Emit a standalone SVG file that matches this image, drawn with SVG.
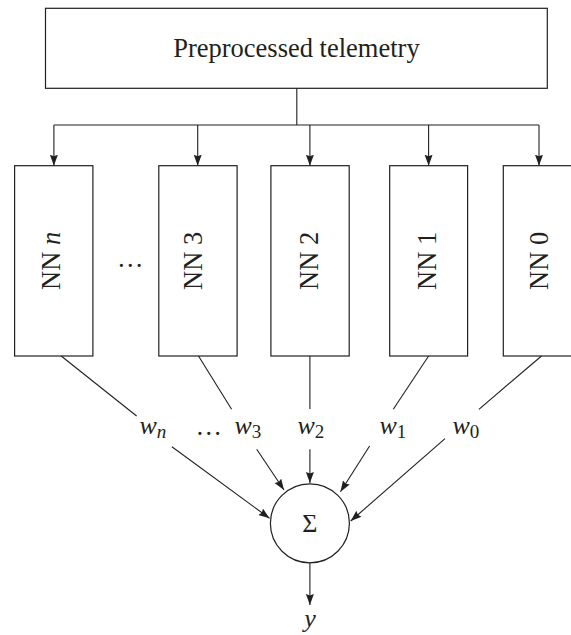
<svg xmlns="http://www.w3.org/2000/svg" width="571" height="635" viewBox="0 0 571 635">
<defs>
<marker id="ah" markerUnits="userSpaceOnUse" markerWidth="12" markerHeight="9" refX="11" refY="4" orient="auto">
<path d="M0,0 L11,4 L0,8 L1.5,4 z" fill="#231f20"/>
</marker>
<style>
.box{fill:#fff;stroke:#231f20;stroke-width:1.2}
.ln{fill:none;stroke:#231f20;stroke-width:1.1}
.ar{fill:none;stroke:#231f20;stroke-width:1.1;marker-end:url(#ah)}
.t{font-family:"Liberation Serif","Times New Roman",serif;font-size:26.5px;fill:#231f20}
.it{font-style:italic}
.w{font-family:"Liberation Serif","Times New Roman",serif;font-size:26px;font-style:italic;fill:#231f20}
.sub{font-size:19px}
</style>
</defs>
<rect width="571" height="635" fill="#fff"/>

<g id="telemetry">
<rect class="box" x="45.5" y="8.3" width="501.8" height="80"/>
<text class="t" x="296.4" y="56.5" text-anchor="middle">Preprocessed telemetry</text>
</g>

<g id="nn_n">
<rect class="box" x="14.6" y="165.7" width="78.3" height="190.3"/>
<text class="t" transform="translate(60.4,260.8) rotate(-90)" text-anchor="middle">NN <tspan class="it">n</tspan></text>
</g>
<g id="nn_3">
<rect class="box" x="158.8" y="165.7" width="78.3" height="190.3"/>
<text class="t" transform="translate(202.4,260.8) rotate(-90)" text-anchor="middle">NN 3</text>
</g>
<g id="nn_2">
<rect class="box" x="270.9" y="165.7" width="78.3" height="190.3"/>
<text class="t" transform="translate(318.2,260.8) rotate(-90)" text-anchor="middle">NN 2</text>
</g>
<g id="nn_1">
<rect class="box" x="389.7" y="165.7" width="77.9" height="190.3"/>
<text class="t" transform="translate(436.2,260.8) rotate(-90)" text-anchor="middle">NN 1</text>
</g>
<g id="nn_0">
<rect class="box" x="503.3" y="165.7" width="78.3" height="190.3"/>
<text class="t" transform="translate(548.4,260.8) rotate(-90)" text-anchor="middle">NN 0</text>
</g>

<g id="dots_nn">
<text class="t" x="130.3" y="267" text-anchor="middle">…</text>
</g>

<g id="sum">
<circle class="box" cx="309.9" cy="523.3" r="39.5"/>
<text class="t" x="309.9" y="532" text-anchor="middle" style="font-size:26px">Σ</text>
</g>

<g id="labels">
<text class="w" x="139.5" y="434">w<tspan class="sub" dy="4">n</tspan></text>
<text class="t" x="208.7" y="435" text-anchor="middle">…</text>
<text class="w" x="234.5" y="434">w<tspan class="sub" dy="4" font-style="normal">3</tspan></text>
<text class="w" x="297.5" y="434">w<tspan class="sub" dy="4" font-style="normal">2</tspan></text>
<text class="w" x="379.5" y="434">w<tspan class="sub" dy="4" font-style="normal">1</tspan></text>
<text class="w" x="452.5" y="434">w<tspan class="sub" dy="4" font-style="normal">0</tspan></text>
<text class="w" x="309.9" y="627" text-anchor="middle">y</text>
</g>

<g id="connectors">
<path class="ln" d="M296.8,88.3 V125 M53.9,125 H539"/>
<path class="ar" d="M53.9,125 V165.7"/>
<path class="ar" d="M197.7,125 V165.7"/>
<path class="ar" d="M309.9,125 V165.7"/>
<path class="ar" d="M428.6,125 V165.7"/>
<path class="ar" d="M539,125 V165.7"/>
<path class="ln" d="M61.2,356 L136.6,416"/>
<path class="ln" d="M198.5,356 L231.6,409.3"/>
<path class="ln" d="M309.9,356 V409"/>
<path class="ln" d="M428.6,356 L393.3,409.3"/>
<path class="ln" d="M541.5,356 L478.9,409.3"/>
<path class="ar" d="M171.9,446.7 L269.5,518.3"/>
<path class="ar" d="M256.7,449.3 L284,490"/>
<path class="ar" d="M309.9,449.3 V483"/>
<path class="ar" d="M369.6,446 L340.5,491.7"/>
<path class="ar" d="M445,438.7 L350.7,521"/>
<path class="ar" d="M309.9,562.8 V605"/>
</g>
</svg>
